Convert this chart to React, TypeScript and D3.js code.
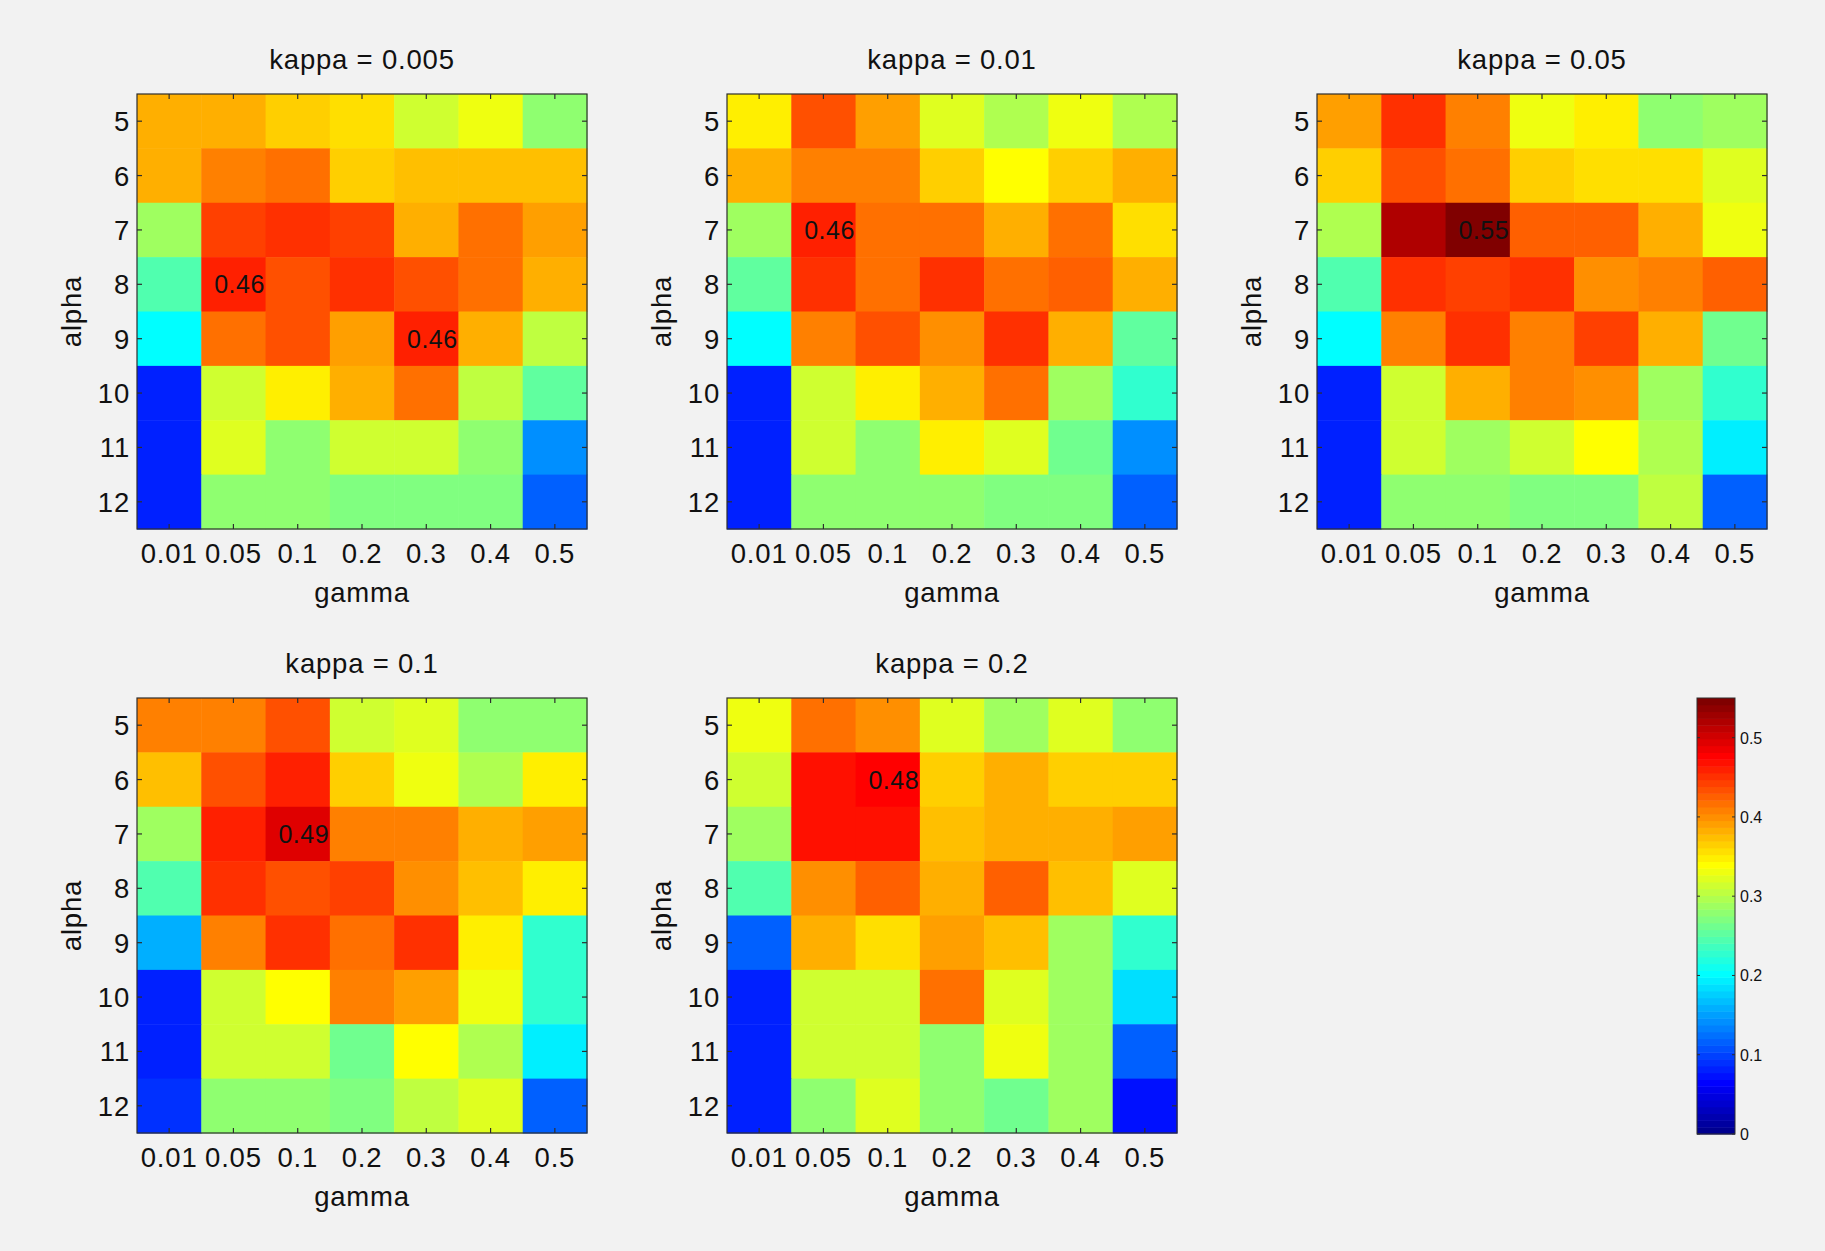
import React from "react";
import * as d3 from "d3";

// ---------- data ----------
const gammas = ["0.01", "0.05", "0.1", "0.2", "0.3", "0.4", "0.5"];
const alphas = ["5", "6", "7", "8", "9", "10", "11", "12"];
const kappas = ["0.005", "0.01", "0.05", "0.1", "0.2"];

// rows = alpha 5..12, cols = gamma 0.01..0.5
const kappa0005 = [
  [0.385, 0.385, 0.362, 0.355, 0.31, 0.335, 0.28],
  [0.385, 0.41, 0.42, 0.368, 0.375, 0.375, 0.375],
  [0.29, 0.445, 0.448, 0.44, 0.38, 0.418, 0.39],
  [0.245, 0.46, 0.435, 0.448, 0.43, 0.42, 0.385],
  [0.205, 0.415, 0.43, 0.388, 0.46, 0.385, 0.305],
  [0.085, 0.315, 0.35, 0.385, 0.415, 0.305, 0.25],
  [0.085, 0.318, 0.28, 0.315, 0.315, 0.275, 0.145],
  [0.085, 0.28, 0.278, 0.272, 0.268, 0.272, 0.115],
];
const kappa001 = [
  [0.35, 0.43, 0.388, 0.32, 0.3, 0.335, 0.3],
  [0.385, 0.405, 0.405, 0.368, 0.34, 0.362, 0.38],
  [0.29, 0.46, 0.42, 0.415, 0.38, 0.42, 0.36],
  [0.25, 0.455, 0.42, 0.45, 0.415, 0.425, 0.385],
  [0.205, 0.405, 0.435, 0.398, 0.452, 0.385, 0.255],
  [0.08, 0.315, 0.352, 0.38, 0.415, 0.29, 0.232],
  [0.08, 0.315, 0.28, 0.35, 0.32, 0.26, 0.145],
  [0.08, 0.275, 0.275, 0.278, 0.27, 0.272, 0.115],
];
const kappa005 = [
  [0.388, 0.455, 0.405, 0.335, 0.345, 0.28, 0.285],
  [0.368, 0.43, 0.42, 0.362, 0.355, 0.355, 0.318],
  [0.295, 0.52, 0.55, 0.428, 0.428, 0.38, 0.332],
  [0.248, 0.455, 0.44, 0.45, 0.402, 0.405, 0.425],
  [0.205, 0.405, 0.448, 0.41, 0.44, 0.385, 0.26],
  [0.08, 0.315, 0.385, 0.41, 0.4, 0.29, 0.23],
  [0.08, 0.317, 0.285, 0.315, 0.34, 0.295, 0.19],
  [0.08, 0.275, 0.275, 0.27, 0.27, 0.305, 0.115],
];
const kappa01 = [
  [0.405, 0.41, 0.432, 0.315, 0.322, 0.275, 0.275],
  [0.37, 0.432, 0.46, 0.362, 0.334, 0.295, 0.345],
  [0.288, 0.46, 0.49, 0.405, 0.41, 0.38, 0.388],
  [0.248, 0.455, 0.436, 0.44, 0.4, 0.37, 0.352],
  [0.158, 0.41, 0.448, 0.42, 0.452, 0.352, 0.225],
  [0.08, 0.317, 0.34, 0.405, 0.393, 0.33, 0.225],
  [0.08, 0.317, 0.317, 0.262, 0.34, 0.298, 0.19],
  [0.09, 0.276, 0.276, 0.27, 0.308, 0.318, 0.112],
];
const kappa02 = [
  [0.328, 0.42, 0.4, 0.322, 0.285, 0.325, 0.277],
  [0.317, 0.465, 0.48, 0.368, 0.38, 0.362, 0.362],
  [0.288, 0.465, 0.465, 0.375, 0.385, 0.38, 0.388],
  [0.248, 0.4, 0.428, 0.385, 0.422, 0.37, 0.318],
  [0.117, 0.385, 0.36, 0.393, 0.37, 0.285, 0.225],
  [0.078, 0.317, 0.31, 0.42, 0.318, 0.287, 0.182],
  [0.078, 0.317, 0.31, 0.275, 0.33, 0.287, 0.117],
  [0.08, 0.276, 0.325, 0.275, 0.258, 0.287, 0.07],
];
const grids = [kappa0005, kappa001, kappa005, kappa01, kappa02];

// annotated cells: [panel index, alpha row index, gamma col index]
const annotations = [
  [0, 3, 1],
  [0, 4, 4],
  [1, 2, 1],
  [2, 2, 2],
  [3, 2, 2],
  [4, 1, 2],
];

const colorbarTicks = [0, 0.1, 0.2, 0.3, 0.4, 0.5];

// ---------- layout ----------
const W = 1825;
const H = 1251;
const PW = 450;
const PH = 435;
const panelPos = [
  [137, 94],
  [727, 94],
  [1317, 94],
  [137, 698],
  [727, 698],
];
const CB = { x: 1697, y: 698, w: 38, h: 436 };
const FONT = "'Liberation Sans', Arial, Helvetica, sans-serif";
const FS = 27.5;
const LS = 0.8;
const AXIS = "#2e2e2e";
const TEXT = "#111";

// MATLAB jet(64)
function jet64(): string[] {
  const n = 64;
  const m = 16;
  const u: number[] = [];
  for (let i = 1; i <= m; i++) u.push(i / m);
  for (let i = 0; i < m - 1; i++) u.push(1);
  for (let i = m; i >= 1; i--) u.push(i / m);
  const r = new Array(n).fill(0);
  const g = new Array(n).fill(0);
  const b = new Array(n).fill(0);
  for (let i = 0; i < u.length; i++) {
    const gi = 8 + i + 1;
    const ri = gi + m;
    const bi = gi - m;
    if (gi >= 1 && gi <= n) g[gi - 1] = u[i];
    if (ri >= 1 && ri <= n) r[ri - 1] = u[i];
    if (bi >= 1 && bi <= n) b[bi - 1] = u[i];
  }
  return r.map((_, i) =>
    d3.rgb(Math.round(r[i] * 255), Math.round(g[i] * 255), Math.round(b[i] * 255)).formatHex()
  );
}
const JET = jet64();
const cmax = d3.max(grids.flat(2)) as number;
const color = d3.scaleQuantize<string>().domain([0, cmax]).range(JET);

function Panel({ idx }: { idx: number }) {
  const [left, top] = panelPos[idx];
  const grid = grids[idx];
  const x = d3.scaleBand<string>().domain(gammas).range([left, left + PW]);
  const y = d3.scaleBand<string>().domain(alphas).range([top, top + PH]);
  const bw = x.bandwidth();
  const bh = y.bandwidth();
  const tick = 5;
  const txt = { fontSize: FS, fontFamily: FONT, fill: TEXT, letterSpacing: LS };
  return (
    <g>
      {grid.map((row, ri) =>
        row.map((v, ci) => (
          <rect
            key={`${ri}-${ci}`}
            x={x(gammas[ci])}
            y={y(alphas[ri])}
            width={bw + 0.5}
            height={bh + 0.5}
            fill={color(v)}
          />
        ))
      )}
      <rect x={left} y={top} width={PW} height={PH} fill="none" stroke={AXIS} strokeWidth={1.2} />
      {gammas.map((g) => {
        const cx = (x(g) as number) + bw / 2;
        return (
          <g key={g}>
            <line x1={cx} x2={cx} y1={top} y2={top + tick} stroke={AXIS} strokeWidth={1.2} />
            <line x1={cx} x2={cx} y1={top + PH} y2={top + PH - tick} stroke={AXIS} strokeWidth={1.2} />
            <text x={cx} y={top + PH + 34} textAnchor="middle" {...txt}>
              {g}
            </text>
          </g>
        );
      })}
      {alphas.map((a) => {
        const cy = (y(a) as number) + bh / 2;
        return (
          <g key={a}>
            <line x1={left} x2={left + tick} y1={cy} y2={cy} stroke={AXIS} strokeWidth={1.2} />
            <line x1={left + PW} x2={left + PW - tick} y1={cy} y2={cy} stroke={AXIS} strokeWidth={1.2} />
            <text x={left - 7} y={cy + 10} textAnchor="end" {...txt}>
              {a}
            </text>
          </g>
        );
      })}
      <text x={left + PW / 2} y={top - 25} textAnchor="middle" {...txt}>
        {`kappa = ${kappas[idx]}`}
      </text>
      <text x={left + PW / 2} y={top + PH + 73} textAnchor="middle" {...txt}>
        gamma
      </text>
      <text transform={`translate(${left - 56},${top + PH / 2}) rotate(-90)`} textAnchor="middle" {...txt}>
        alpha
      </text>
      {annotations
        .filter((a) => a[0] === idx)
        .map(([, ri, ci]) => {
          const cx = (x(gammas[ci]) as number) + bw / 2;
          const cy = (y(alphas[ri]) as number) + bh / 2;
          return (
            <text
              key={`a${ri}-${ci}`}
              x={cx - 0.3 * bw}
              y={cy + 9}
              fontSize={25}
              fontFamily={FONT}
              fill={TEXT}
              letterSpacing={0.5}
            >
              {grid[ri][ci].toFixed(2)}
            </text>
          );
        })}
    </g>
  );
}

function Colorbar() {
  const s = d3.scaleLinear().domain([0, cmax]).range([CB.y + CB.h, CB.y]);
  const n = JET.length;
  return (
    <g>
      {JET.map((c, i) => {
        const y0 = s((i * cmax) / n);
        const y1 = s(((i + 1) * cmax) / n);
        return <rect key={i} x={CB.x} y={y1} width={CB.w} height={y0 - y1 + 0.5} fill={c} />;
      })}
      <rect x={CB.x} y={CB.y} width={CB.w} height={CB.h} fill="none" stroke={AXIS} strokeWidth={1} />
      {colorbarTicks.map((t) => (
        <g key={t}>
          <line x1={CB.x} x2={CB.x + 3} y1={s(t)} y2={s(t)} stroke={AXIS} strokeWidth={1} />
          <line x1={CB.x + CB.w} x2={CB.x + CB.w - 3} y1={s(t)} y2={s(t)} stroke={AXIS} strokeWidth={1} />
          <text x={CB.x + CB.w + 5} y={s(t) + 6} fontSize={16} fontFamily={FONT} fill={TEXT}>
            {String(t)}
          </text>
        </g>
      ))}
    </g>
  );
}

export default function App() {
  return (
    <svg
      width={W}
      height={H}
      viewBox={`0 0 ${W} ${H}`}
      style={{ position: "absolute", left: 0, top: 0, display: "block" }}
    >
      <rect x={0} y={0} width={W} height={H} fill="#f2f2f2" />
      {kappas.map((_, i) => (
        <Panel key={i} idx={i} />
      ))}
      <Colorbar />
    </svg>
  );
}
